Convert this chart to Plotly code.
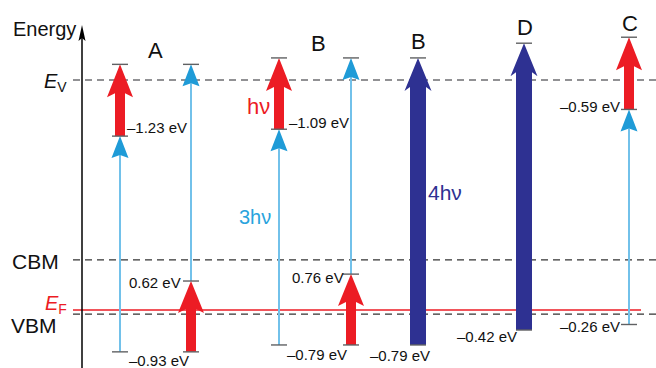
import plotly.graph_objects as go

# ---------------- data (energies in eV, relative to E_F) ----------------
E_V = 5.00
E_CBM = 1.09
E_F = 0.00
E_VBM = -0.09

col_names = ["A", "A", "B", "B", "B", "D", "C"]
col_kind = ["3hv+hv", "hv+3hv", "3hv+hv", "hv+3hv", "4hv", "4hv", "3hv+hv"]
bottom_E = [-0.91, -0.91, -0.76, -0.76, -0.76, -0.435, -0.315]
mid_E = [3.78, 0.63, 3.93, 0.78, None, None, 4.36]
top_E = [5.34, 5.34, 5.48, 5.48, 5.48, 5.80, 5.93]

# value labels: text, column index, level ("bottom"/"mid")
val_text = ["–1.23 eV", "0.62 eV", "–1.09 eV", "0.76 eV", "–0.59 eV",
            "–0.93 eV", "–0.79 eV", "–0.79 eV", "–0.42 eV", "–0.26 eV"]
val_col = [0, 1, 2, 3, 6, 0, 2, 4, 5, 6]
val_level = ["mid", "mid", "mid", "mid", "mid",
             "bottom", "bottom", "bottom", "bottom", "bottom"]

letter_text = ["A", "B", "B", "D", "C"]

# ---------------- layout / style constants ----------------
W, H = 656, 368
S = 46.0          # px per eV
EF_PX = 310.0     # pixel row of E_F
Y0 = E_F - (H - EF_PX) / S
Y1 = E_F + EF_PX / S
col_x = [120, 191, 279, 351, 418, 524, 629]
AXIS_X = 82
LINE_X0 = 73

RED = "#ec1c24"
NAVY = "#2e3192"
LBLUE = "#72c1ea"
BLUE = "#1f9bd7"
GRAY = "#606163"
FONT = "Liberation Sans, Arial, Helvetica, sans-serif"

fig = go.Figure()


def add_line(xs, ys, color, width, dash=None):
    fig.add_trace(go.Scatter(x=xs, y=ys, mode="lines",
                             line=dict(color=color, width=width, dash=dash),
                             hoverinfo="skip", showlegend=False))


def add_poly(xs, ys, color):
    fig.add_trace(go.Scatter(x=xs, y=ys, mode="lines", fill="toself",
                             fillcolor=color, line=dict(width=0, color=color),
                             hoverinfo="skip", showlegend=False))


def thick_arrow(xc, yb, yt, sw, hw, hl, notch, color):
    h = hl / S
    n = notch / S
    xs = [xc, xc + hw / 2, xc + sw / 2, xc + sw / 2, xc - sw / 2, xc - sw / 2, xc - hw / 2, xc]
    ys = [yt, yt - h, yt - h + n, yb, yb, yt - h + n, yt - h, yt]
    add_poly(xs, ys, color)


def thin_arrow(xc, yb, yt, color_line, color_head, hw=17, hl=22, notch=3):
    h = hl / S
    n = notch / S
    add_line([xc, xc], [yb, yt - h + n], color_line, 2)
    add_poly([xc, xc + hw / 2, xc, xc - hw / 2, xc],
             [yt, yt - h, yt - h + n, yt - h, yt], color_head)


# reference levels
add_line([LINE_X0, W], [E_V, E_V], "#6d6e71", 1.4, "7px,5px")
add_line([LINE_X0, W], [E_CBM, E_CBM], "#333333", 1.4, "7px,5px")
add_line([LINE_X0, W], [E_VBM, E_VBM], "#333333", 1.4, "7px,5px")
add_line([LINE_X0, 641], [E_F, E_F], RED, 1.5)

# energy axis
AXIS_TOP = E_F + (EF_PX - 25) / S
add_line([AXIS_X, AXIS_X], [Y0, AXIS_TOP - 10 / S], "black", 1.5)
add_poly([AXIS_X, AXIS_X + 3.5, AXIS_X, AXIS_X - 3.5, AXIS_X],
         [AXIS_TOP, AXIS_TOP - 16 / S, AXIS_TOP - 13 / S, AXIS_TOP - 16 / S, AXIS_TOP], "black")

# transitions
for i, kind in enumerate(col_kind):
    xc = col_x[i]
    yb, ym, yt = bottom_E[i], mid_E[i], top_E[i]
    if kind == "3hv+hv":
        thin_arrow(xc, yb, ym, LBLUE, BLUE)
        thick_arrow(xc, ym, yt, 10, 26, 33, 4, RED)
    elif kind == "hv+3hv":
        thin_arrow(xc, ym, yt, LBLUE, BLUE)
        thick_arrow(xc, yb, ym, 10, 26, 32, 4, RED)
    else:
        thick_arrow(xc, yb, yt, 16, 27, 33, 4, NAVY)
    for lv in (yb, ym, yt):
        if lv is not None:
            add_line([xc - 8, xc + 8], [lv, lv], GRAY, 1.4)

# ---------------- text ----------------
ann = []


def txt(text, px, py, size, color="#111111", xanchor="center"):
    ann.append(dict(text=text, x=px / W, y=1 - py / H, xref="paper", yref="paper",
                    xanchor=xanchor, yanchor="middle", showarrow=False,
                    font=dict(family=FONT, size=size, color=color)))


txt("Energy", 44.5, 29, 20)
txt("<i>E</i><sub>V</sub>", 69, 82, 20, xanchor="right")
txt("CBM", 35, 261, 21)
txt("<i>E</i><sub>F</sub>", 69, 304, 20, color=RED, xanchor="right")
txt("VBM", 33.5, 325, 21)

letter_px = [(155, 50), (318, 43), (418, 42), (525, 27), (630, 23)]
for t, (px, py) in zip(letter_text, letter_px):
    txt(t, px, py, 22)

txt("hν", 258, 106, 22, color=RED)
txt("3hν", 255, 217, 20, color="#29a3dd")
txt("4hν", 426, 192, 21, color=NAVY, xanchor="left")

# value labels positions: (xanchor, x px, vertical shift px up from level)
val_pos = [("left", 125, 9), ("right", 183, -1), ("left", 287, 7), ("right", 346, -3),
           ("right", 622, 3), ("left", 127, -9), ("left", 285, -10), ("right", 432, -11),
           ("right", 519, -6), ("right", 622, -2)]
for t, c, lvl, (xa, px, dy) in zip(val_text, val_col, val_level, val_pos):
    yv = mid_E[c] if lvl == "mid" else bottom_E[c]
    ann.append(dict(text=t, x=px, y=yv, xref="x", yref="y", xanchor=xa,
                    yanchor="middle", yshift=dy, showarrow=False,
                    font=dict(family=FONT, size=15, color="#111111")))

fig.update_layout(
    width=W, height=H, margin=dict(l=0, r=0, t=0, b=0),
    paper_bgcolor="white", plot_bgcolor="white",
    xaxis=dict(range=[0, W], visible=False, fixedrange=True),
    yaxis=dict(range=[Y0, Y1], visible=False, fixedrange=True),
    annotations=ann, showlegend=False,
)

fig.write_html("out.html")
